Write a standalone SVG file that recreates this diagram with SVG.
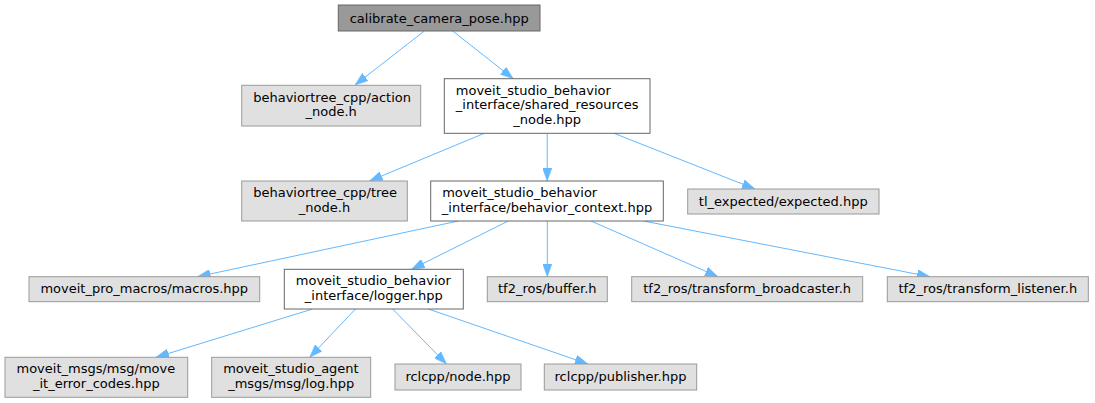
<svg xmlns="http://www.w3.org/2000/svg" width="1095" height="403" viewBox="0 0 1095 403">
<style>
text{font-family:"DejaVu Sans","Liberation Sans",sans-serif;font-size:13px;fill:#000}
.m{text-anchor:middle}
.s{text-anchor:start}
.g{fill:#e0e0e0;stroke:#999999;stroke-width:1}
.w{fill:#ffffff;stroke:#666666;stroke-width:1}
.r{fill:#999999;stroke:#666666;stroke-width:1}
.e{stroke:#63b8ff;stroke-width:1;fill:none;marker-end:url(#ah)}
</style>
<defs>
<marker id="ah" viewBox="0 0 13 9.4" refX="13" refY="4.7" markerWidth="13" markerHeight="9.4" markerUnits="userSpaceOnUse" orient="auto">
<path d="M0,0 L13,4.7 L0,9.4 z" fill="#63b8ff" stroke="#63b8ff" stroke-width="0.5"/>
</marker>
</defs>
<rect width="1095" height="403" fill="#ffffff"/>
<g id="connectors">
<line class="e" x1="424.3" y1="31" x2="355" y2="85"/>
<line class="e" x1="452.7" y1="31" x2="513.3" y2="78.7"/>
<line class="e" x1="484.3" y1="133.3" x2="369.5" y2="181"/>
<line class="e" x1="547.2" y1="133.3" x2="547.2" y2="181"/>
<line class="e" x1="614" y1="133.3" x2="755" y2="189"/>
<line class="e" x1="458.3" y1="221" x2="197.5" y2="276.7"/>
<line class="e" x1="508.3" y1="221" x2="411.5" y2="269.3"/>
<line class="e" x1="547.3" y1="221" x2="547.3" y2="276.7"/>
<line class="e" x1="591" y1="221" x2="718" y2="276.7"/>
<line class="e" x1="643.5" y1="221" x2="930" y2="276.7"/>
<line class="e" x1="312.5" y1="309" x2="156" y2="357.3"/>
<line class="e" x1="355.5" y1="309" x2="309.7" y2="357.3"/>
<line class="e" x1="392.7" y1="309" x2="446.5" y2="364"/>
<line class="e" x1="428.3" y1="309" x2="588" y2="364"/>
</g>
<g id="n1"><rect class="r" x="338.3" y="5" width="201.7" height="26"/><text class="m" x="439.2" y="22.5">calibrate_camera_pose.hpp</text></g>
<g id="n2"><rect class="g" x="241.7" y="85.3" width="179" height="40.7"/><text class="s" x="253.2" y="101.5">behaviortree_cpp/action</text><text class="m" x="331.2" y="116">_node.h</text></g>
<g id="n3"><rect class="w" x="444.3" y="78.7" width="205.7" height="54.6"/><text class="s" x="455.8" y="94.5">moveit_studio_behavior</text><text class="m" x="547.2" y="109">_interface/shared_resources</text><text class="m" x="547.2" y="123.5">_node.hpp</text></g>
<g id="n4"><rect class="g" x="241.7" y="181" width="165.6" height="40"/><text class="s" x="253.2" y="197">behaviortree_cpp/tree</text><text class="m" x="324.5" y="211.5">_node.h</text></g>
<g id="n5"><rect class="w" x="430.7" y="181" width="232.6" height="40"/><text class="s" x="442.2" y="197">moveit_studio_behavior</text><text class="m" x="547" y="211.5">_interface/behavior_context.hpp</text></g>
<g id="n6"><rect class="g" x="687.7" y="189" width="191.3" height="25"/><text class="m" x="783.3" y="205.5">tl_expected/expected.hpp</text></g>
<g id="n7"><rect class="g" x="29" y="276.7" width="230.7" height="25"/><text class="m" x="144.3" y="293.2">moveit_pro_macros/macros.hpp</text></g>
<g id="n8"><rect class="w" x="284.3" y="269.3" width="179" height="39.7"/><text class="s" x="295.8" y="285">moveit_studio_behavior</text><text class="m" x="373.8" y="299.5">_interface/logger.hpp</text></g>
<g id="n9"><rect class="g" x="487.3" y="276.7" width="120" height="25"/><text class="m" x="547.3" y="293.2">tf2_ros/buffer.h</text></g>
<g id="n10"><rect class="g" x="631.7" y="276.7" width="231" height="25"/><text class="m" x="747.2" y="293.2">tf2_ros/transform_broadcaster.h</text></g>
<g id="n11"><rect class="g" x="887.3" y="276.7" width="201" height="25"/><text class="m" x="987.8" y="293.2">tf2_ros/transform_listener.h</text></g>
<g id="n12"><rect class="g" x="5" y="357.3" width="182.7" height="40"/><text class="s" x="16.5" y="373.3">moveit_msgs/msg/move</text><text class="m" x="96.3" y="387.8">_it_error_codes.hpp</text></g>
<g id="n13"><rect class="g" x="211.7" y="357.3" width="159" height="40"/><text class="s" x="223.2" y="373.3">moveit_studio_agent</text><text class="m" x="291.2" y="387.8">_msgs/msg/log.hpp</text></g>
<g id="n14"><rect class="g" x="395" y="364" width="126" height="26"/><text class="m" x="458" y="381">rclcpp/node.hpp</text></g>
<g id="n15"><rect class="g" x="544.3" y="364" width="152.4" height="26"/><text class="m" x="620.5" y="381">rclcpp/publisher.hpp</text></g>
</svg>
